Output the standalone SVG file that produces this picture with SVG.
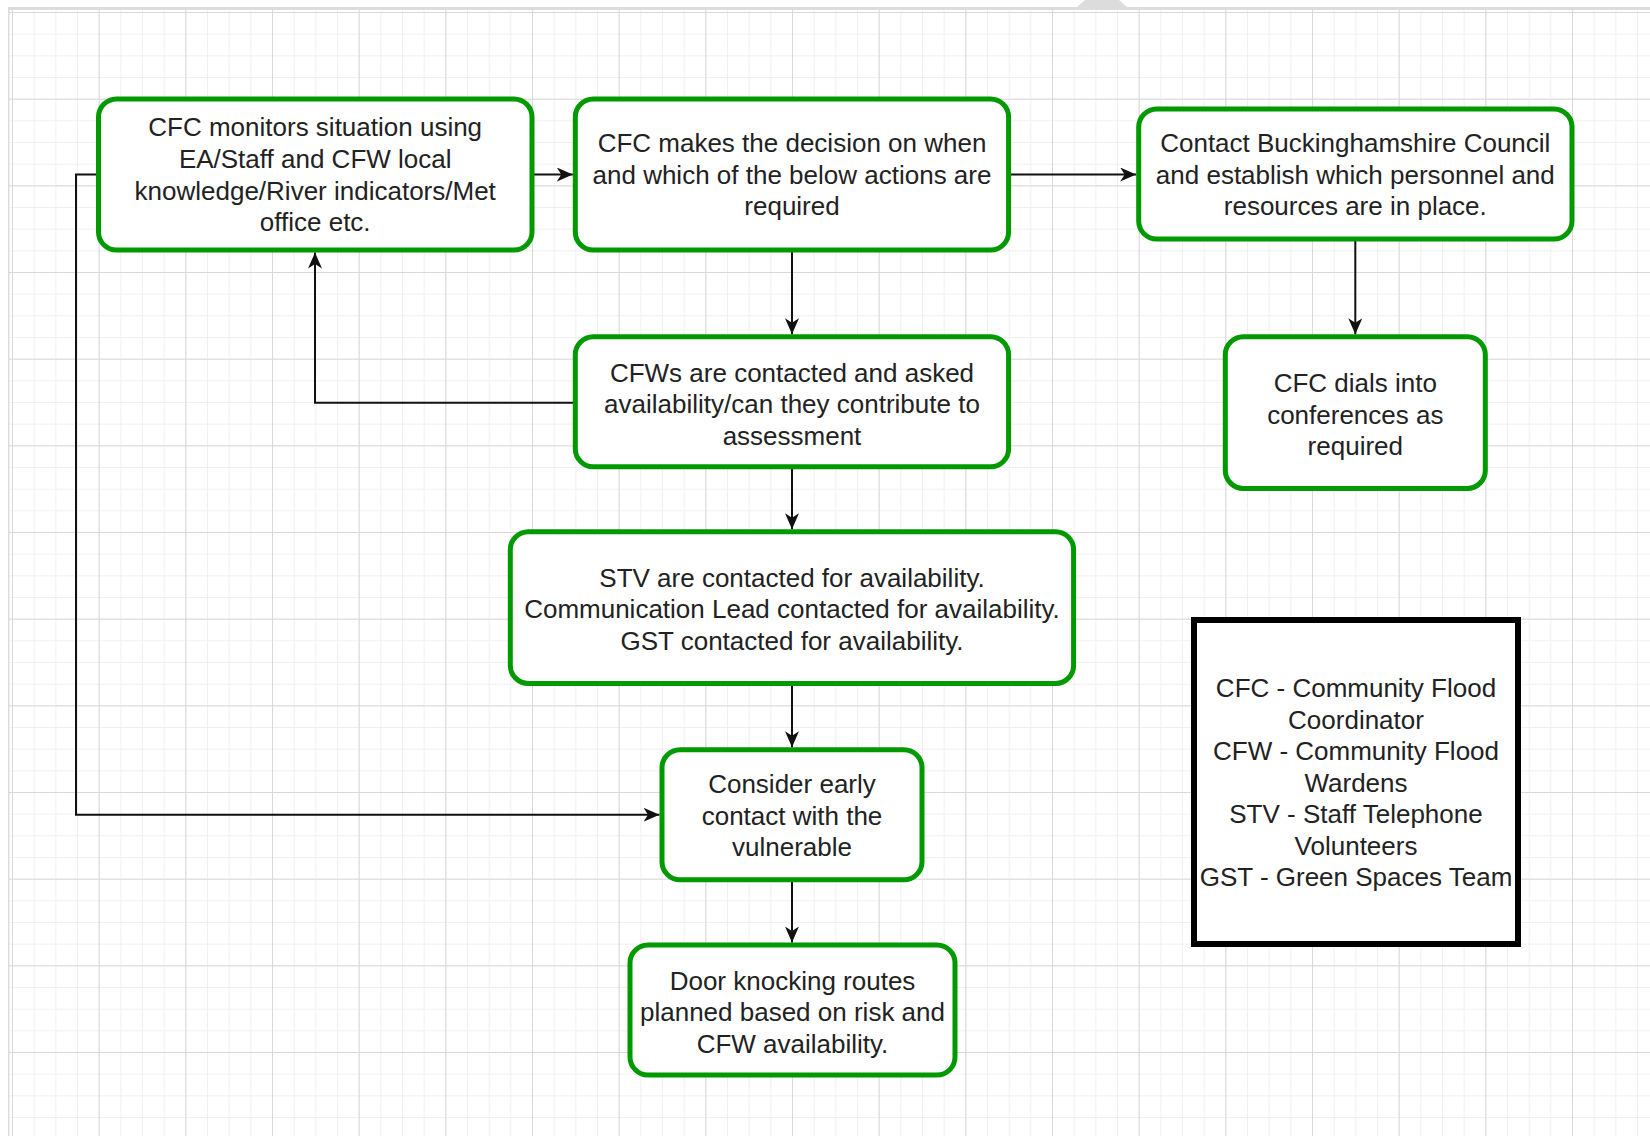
<svg xmlns="http://www.w3.org/2000/svg" width="1650" height="1136" viewBox="0 0 1650 1136">
<defs>
<pattern id="minor" x="12" y="12" width="21.667" height="21.667" patternUnits="userSpaceOnUse">
<path d="M0.5,0 V21.667 M0,0.5 H21.667" fill="none" stroke="#f0f0f0" stroke-width="1"/>
</pattern>
<pattern id="major" x="12" y="12" width="86.667" height="86.667" patternUnits="userSpaceOnUse">
<path d="M0.5,0 V86.667 M0,0.5 H86.667" fill="none" stroke="#d9d9d9" stroke-width="1"/>
</pattern>
<marker id="arr" markerWidth="17" markerHeight="15" refX="16" refY="7" orient="auto" markerUnits="userSpaceOnUse">
<path d="M0,0 L16,7 L0,14 L4.5,7 Z" fill="#111"/>
</marker>
</defs>
<style>
.node rect{fill:#fff;stroke:#009900;stroke-width:5}
.legend rect{fill:#fff;stroke:#000;stroke-width:6}
text{font-family:"Liberation Sans",Arial,Helvetica,sans-serif;font-size:26px;fill:#222;text-anchor:middle}
.conn path{fill:none;stroke:#111;stroke-width:2}
</style>
<rect width="1650" height="1136" fill="#fff"/>
<rect x="9" y="10" width="1641" height="1126" fill="url(#minor)"/>
<rect x="9" y="10" width="1641" height="1126" fill="url(#major)"/>
<rect x="9" y="7" width="1641" height="3" fill="#dcdcdc"/>
<rect x="8" y="7" width="1.5" height="1129" fill="#dcdcdc"/>
<polygon points="1077,7 1127,7 1119,0 1085,0" fill="#dcdcdc"/>

<g id="connectors" class="conn">
<path d="M532.2,174.5 L572.8,174.5" marker-end="url(#arr)"/>
<path d="M1008.7,174.5 L1136.2,174.5" marker-end="url(#arr)"/>
<path d="M792,250 L792,334.2" marker-end="url(#arr)"/>
<path d="M1355.3,239 L1355.3,334.2" marker-end="url(#arr)"/>
<path d="M575.3,402.7 L315,402.7 L315,252.5" marker-end="url(#arr)"/>
<path d="M792,466.7 L792,529.2" marker-end="url(#arr)"/>
<path d="M792,683.4 L792,747.2" marker-end="url(#arr)"/>
<path d="M792,879.7 L792,942.5" marker-end="url(#arr)"/>
<path d="M98.5,174.5 L76,174.5 L76,814.7 L659.5,814.7" marker-end="url(#arr)"/>
</g>

<g id="n1" class="node">
<rect x="98.5" y="99" width="433.5" height="151" rx="18"/>
<text x="315.2" y="136">CFC monitors situation using</text>
<text x="315.2" y="168">EA/Staff and CFW local</text>
<text x="315.2" y="199.5">knowledge/River indicators/Met</text>
<text x="315.2" y="231">office etc.</text>
</g>
<g id="n2" class="node">
<rect x="575.3" y="99" width="433.3" height="151" rx="18"/>
<text x="792" y="152">CFC makes the decision on when</text>
<text x="792" y="183.7">and which of the below actions are</text>
<text x="792" y="215">required</text>
</g>
<g id="n3" class="node">
<rect x="1138.7" y="109" width="433.3" height="130" rx="18"/>
<text x="1355.3" y="152">Contact Buckinghamshire Council</text>
<text x="1355.3" y="183.7">and establish which personnel and</text>
<text x="1355.3" y="215">resources are in place.</text>
</g>
<g id="n4" class="node">
<rect x="575.3" y="336.7" width="433.3" height="130" rx="18"/>
<text x="792" y="381.5">CFWs are contacted and asked</text>
<text x="792" y="413">availability/can they contribute to</text>
<text x="792" y="444.5">assessment</text>
</g>
<g id="n5" class="node">
<rect x="1225.3" y="336.7" width="260" height="151.7" rx="18"/>
<text x="1355.3" y="392">CFC dials into</text>
<text x="1355.3" y="423.5">conferences as</text>
<text x="1355.3" y="455">required</text>
</g>
<g id="n6" class="node">
<rect x="510.3" y="531.7" width="563.3" height="151.7" rx="18"/>
<text x="792" y="586.7">STV are contacted for availability.</text>
<text x="792" y="618.3">Communication Lead contacted for availability.</text>
<text x="792" y="649.9">GST contacted for availability.</text>
</g>
<g id="n7" class="node">
<rect x="662" y="749.7" width="260" height="130" rx="18"/>
<text x="792" y="793">Consider early</text>
<text x="792" y="824.5">contact with the</text>
<text x="792" y="856">vulnerable</text>
</g>
<g id="n8" class="node">
<rect x="630" y="945" width="325" height="130" rx="18"/>
<text x="792.5" y="989.7">Door knocking routes</text>
<text x="792.5" y="1021">planned based on risk and</text>
<text x="792.5" y="1052.5">CFW availability.</text>
</g>
<g id="legend" class="legend">
<rect x="1194" y="620" width="324" height="324"/>
<text x="1356" y="697">CFC - Community Flood</text>
<text x="1356" y="728.5">Coordinator</text>
<text x="1356" y="760">CFW - Community Flood</text>
<text x="1356" y="791.5">Wardens</text>
<text x="1356" y="823">STV - Staff Telephone</text>
<text x="1356" y="854.5">Volunteers</text>
<text x="1356" y="886">GST - Green Spaces Team</text>
</g>
</svg>
